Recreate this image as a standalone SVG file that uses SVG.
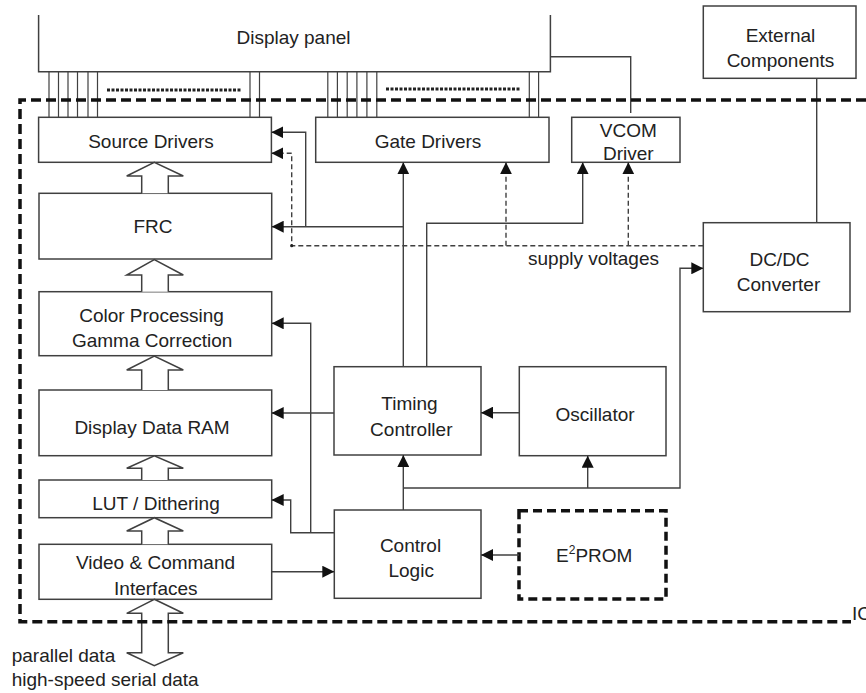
<svg xmlns="http://www.w3.org/2000/svg" width="866" height="693" viewBox="0 0 866 693">
<style>
.box{fill:#fff;stroke:#404040;stroke-width:1.5}
.t{font-family:"Liberation Sans",Arial,sans-serif;font-size:19px;fill:#222;text-anchor:middle}
.ts{font-family:"Liberation Sans",Arial,sans-serif;font-size:19px;fill:#222;text-anchor:start}
.ln{fill:none;stroke:#404040;stroke-width:1.4}
.dl{fill:none;stroke:#404040;stroke-width:1.4;stroke-dasharray:5 3}
.pl{fill:none;stroke:#404040;stroke-width:1.2}
.dots{fill:none;stroke:#222;stroke-width:3;stroke-dasharray:3 1.5}
.ha{fill:#fff;stroke:#404040;stroke-width:1.5}
.ic{fill:none;stroke:#111;stroke-width:3.5;stroke-dasharray:10 5}
.ah{marker-end:url(#ah)}
</style>
<defs>
<marker id="ah" markerUnits="userSpaceOnUse" markerWidth="12" markerHeight="12" refX="12" refY="6" orient="auto"><path d="M0,0 L12,6 L0,12 z" fill="#111" stroke="none"/></marker>
</defs>

<g id="display-panel">
<path class="box" d="M38.6,15 V71.7 H550.4 V15" style="fill:#fff"/>
<text class="t" x="293.5" y="44">Display panel</text>
<g class="pl">
<path d="M49,71.7V117.3M58.5,71.7V117.3M68,71.7V117.3M77.5,71.7V117.3M88,71.7V117.3M97.5,71.7V117.3M250,71.7V117.3M259.5,71.7V117.3"/>
<path d="M327.8,71.7V117.3M337.4,71.7V117.3M347.2,71.7V117.3M356.9,71.7V117.3M366.9,71.7V117.3M376.8,71.7V117.3M529.3,71.7V117.3M538.6,71.7V117.3"/>
</g>
<path class="dots" d="M107,90 H241"/>
<path class="dots" d="M386,89 H521"/>
</g>

<g id="external-components">
<rect class="box" x="703.3" y="6" width="152.7" height="72.3"/>
<text class="t" x="780.5" y="41.7">External</text>
<text class="t" x="780.5" y="66.7">Components</text>
</g>

<g id="source-drivers">
<rect class="box" x="38.6" y="117.3" width="232.8" height="45"/>
<text class="t" x="151" y="148">Source Drivers</text>
</g>
<g id="gate-drivers">
<rect class="box" x="315.7" y="117.3" width="233.3" height="45"/>
<text class="t" x="428" y="148">Gate Drivers</text>
</g>
<g id="vcom-driver">
<rect class="box" x="571.7" y="117.3" width="108.3" height="45"/>
<text class="t" x="628.3" y="137">VCOM</text>
<text class="t" x="628.3" y="160">Driver</text>
</g>
<g id="frc">
<rect class="box" x="39" y="193.3" width="232.7" height="65.7"/>
<text class="t" x="153" y="233">FRC</text>
</g>
<g id="dcdc-converter">
<rect class="box" x="703.3" y="222.7" width="146.7" height="89"/>
<text class="t" x="779.5" y="266">DC/DC</text>
<text class="t" x="778.5" y="291">Converter</text>
</g>
<g id="color-processing">
<rect class="box" x="39" y="291.7" width="232.7" height="64"/>
<text class="t" x="151.5" y="322">Color Processing</text>
<text class="t" x="152.2" y="346.7">Gamma Correction</text>
</g>
<g id="display-data-ram">
<rect class="box" x="39" y="390" width="232.7" height="65.7"/>
<text class="t" x="152" y="434">Display Data RAM</text>
</g>
<g id="lut-dithering">
<rect class="box" x="39" y="480" width="232.7" height="37.7"/>
<text class="t" x="156" y="510">LUT / Dithering</text>
</g>
<g id="video-command-interfaces">
<rect class="box" x="39" y="544.3" width="232.7" height="55"/>
<text class="t" x="155.5" y="569">Video &amp; Command</text>
<text class="t" x="155.8" y="595">Interfaces</text>
</g>
<g id="timing-controller">
<rect class="box" x="334" y="366.7" width="147" height="88.3"/>
<text class="t" x="409.5" y="410">Timing</text>
<text class="t" x="411.3" y="435.7">Controller</text>
</g>
<g id="oscillator">
<rect class="box" x="519.3" y="366.7" width="146.7" height="89"/>
<text class="t" x="595" y="420.7">Oscillator</text>
</g>
<g id="control-logic">
<rect class="box" x="334.3" y="510" width="146.7" height="88.3"/>
<text class="t" x="410.5" y="551.7">Control</text>
<text class="t" x="411.2" y="577">Logic</text>
</g>
<g id="e2prom">
<rect x="519" y="510.7" width="147" height="88.3" fill="#fff" stroke="#111" stroke-width="3.5" stroke-dasharray="9 5"/>
<text class="t" x="594.2" y="561.7">E<tspan font-size="12" dy="-8">2</tspan><tspan dy="8">PROM</tspan></text>
</g>

<g id="data-arrows">
<path class="ha" d="M141.7,193.3 V176 H126.7 L154.3,162.3 L183.3,176 H168.3 V193.3"/>
<path class="ha" d="M141.7,291.7 V275 H126.7 L154.3,259.5 L183.3,275 H168.3 V291.7"/>
<path class="ha" d="M141.7,390 V370 H126.7 L154.3,356 L183.3,370 H168.3 V390"/>
<path class="ha" d="M141.7,480 V468.3 H126.7 L154.3,455.7 L183.3,468.3 H168.3 V480"/>
<path class="ha" d="M141.7,544.3 V531 H126.7 L154.3,517.7 L183.3,531 H168.3 V544.3"/>
<path class="ha" d="M154.3,599.3 L183.3,613.3 H168.3 V652.7 H183.3 L154.3,665.7 L126.7,652.7 H141.7 V613.3 H126.7 Z"/>
</g>

<g id="connectors">
<path class="ln" d="M550.4,56.7 H630.7 V113"/>
<path class="ln" d="M816.7,78.3 V222.7"/>
<path class="ln ah" d="M403.3,366.7 V162.3"/>
<path class="ln ah" d="M403.3,226.7 H271.7"/>
<path class="ln ah" d="M305.7,226.7 V132.3 H271.4"/>
<path class="ln ah" d="M426.7,366.7 V223.3 H582.7 V162.3"/>
<path class="dl ah" d="M703.3,245.7 H291.7 V153.3 H271.4"/>
<path class="dl ah" d="M506,245.7 V162.3"/>
<path class="dl ah" d="M628.3,245.7 V162.3"/>
<circle cx="291.7" cy="245.7" r="1.6" fill="#222"/>
<path class="ln ah" d="M334,413 H271.7"/>
<path class="ln ah" d="M334.3,532.7 H290.7 V500 H271.7"/>
<path class="ln ah" d="M310.7,532.7 V323.3 H271.7"/>
<path class="ln ah" d="M519.3,412.7 H481"/>
<path class="ln ah" d="M403.3,510 V455"/>
<path class="ln ah" d="M403.3,488 H680 V268.3 H703.3"/>
<path class="ln ah" d="M587.7,488 V455.7"/>
<path class="ln ah" d="M519,555 H481"/>
<path class="ln ah" d="M271.7,571.7 H334.3"/>
</g>

<g id="labels">
<text class="ts" x="528" y="265">supply voltages</text>
<text class="ts" x="11.7" y="661.7">parallel data</text>
<text class="ts" x="11.7" y="686">high-speed serial data</text>
</g>

<g id="ic-boundary">
<path class="ic" d="M866,100 H20 V621.7 H851"/>
<text class="ts" x="852" y="620">IC</text>
</g>
</svg>
